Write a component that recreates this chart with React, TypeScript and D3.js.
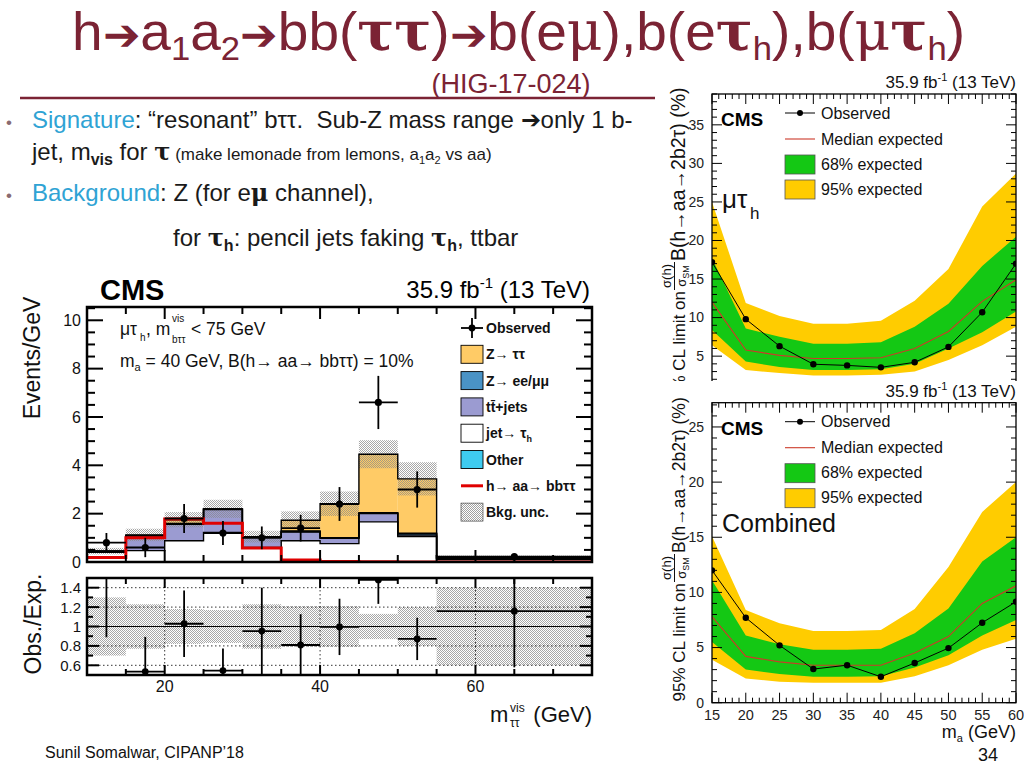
import React from "react";
import * as d3 from "d3";

const FONT = "'Liberation Sans', Arial, Helvetica, sans-serif";
const MAROON = "#7b2334";
const BLUE = "#2fa3d4";
const TEXT = "#1a1a1a";

// ---------------- Left chart: m_vis(tautau) distribution (mu tau_h) ----------------
const binEdges = [10, 15, 20, 25, 30, 35, 40, 45, 50, 55, 75];
const jetFakes = [0.40, 0.47, 0.88, 1.22, 0.60, 0.88, 0.76, 1.66, 1.05, 0.10];
const ttJets = [0.05, 0.60, 0.68, 0.95, 0.42, 0.36, 0.22, 0.34, 0.06, 0.04];
const zLL = [0.00, 0.02, 0.02, 0.01, 0.01, 0.02, 0.02, 0.02, 0.06, 0.01];
const otherBkg = [0.00, 0.01, 0.02, 0.01, 0.01, 0.02, 0.01, 0.02, 0.02, 0.01];
const zTauTau = [0.00, 0.02, 0.15, 0.01, 0.01, 0.45, 1.40, 2.42, 2.25, 0.03];
const bkgRelUnc = [0.30, 0.23, 0.18, 0.17, 0.23, 0.21, 0.21, 0.13, 0.20, 0.40];
const observed = [0.80, 0.60, 1.80, 1.20, 1.00, 1.40, 2.40, 6.60, 3.00, 0.22];
const observedErr = [0.40, 0.40, 0.60, 0.50, 0.47, 0.55, 0.70, 1.10, 0.75, 0.11];
const signal = [0.19, 1.00, 1.78, 1.60, 0.58, 0.08, 0.02, 0.01, 0.00, 0.00];
const mainYTicks = [0, 2, 4, 6, 8, 10];
const ratioYTicks = [0.6, 0.8, 1, 1.2, 1.4];
const ratioXTicks = [20, 40, 60];

// ---------------- Right charts: limits vs m_a ----------------
const massPoints = [15, 20, 25, 30, 35, 40, 45, 50, 55, 60];
const mtObs = [17.2, 9.8, 6.3, 3.95, 3.8, 3.55, 4.2, 6.2, 10.7, 17.0];
const mtMedian = [12.0, 5.8, 5.1, 4.7, 4.7, 4.8, 6.0, 8.2, 12.1, 14.9];
const mt68Lo = [8.4, 4.3, 3.6, 3.2, 3.2, 3.3, 4.0, 6.0, 8.1, 10.8];
const mt68Hi = [17.7, 8.6, 7.5, 6.6, 6.6, 6.8, 8.8, 11.8, 16.7, 20.5];
const mt95Lo = [6.4, 3.2, 2.8, 2.5, 2.5, 2.6, 3.0, 4.5, 6.4, 8.8];
const mt95Hi = [25.0, 11.9, 10.2, 9.2, 9.2, 9.6, 12.2, 16.3, 24.4, 28.7];

const cbObs = [12.0, 7.7, 5.2, 3.05, 3.4, 2.35, 3.6, 4.95, 7.25, 9.15];
const cbMedian = [7.8, 4.2, 3.7, 3.4, 3.4, 3.4, 4.5, 6.0, 9.0, 10.6];
const cb68Lo = [5.5, 3.0, 2.6, 2.35, 2.35, 2.4, 3.2, 4.3, 6.1, 7.5];
const cb68Hi = [11.1, 6.1, 5.3, 4.8, 4.8, 4.9, 6.3, 8.55, 12.8, 15.0];
const cb95Lo = [3.9, 2.2, 1.9, 1.8, 1.8, 1.8, 2.4, 3.4, 4.8, 5.8];
const cb95Hi = [15.1, 8.4, 7.2, 6.5, 6.5, 6.6, 8.5, 12.3, 17.3, 20.0];
const limitXTicks = [15, 20, 25, 30, 35, 40, 45, 50, 55, 60];
const topYTicks = [5, 10, 15, 20, 25, 30, 35];
const bottomYTicks = [0, 5, 10, 15, 20, 25];

const stackColors: Record<string, string> = {
  jet: "#ffffff",
  tt: "#9b9bd1",
  zll: "#4a93c6",
  other: "#3ecbf0",
  ztt: "#ffcb66",
};
const GREEN = "#14c814";
const YELLOW = "#ffcc00";
const SERIF = "'DejaVu Serif', serif";

function LimitPanel(props: any) {
  const { top, bottom, yMax, obs, med, lo68, hi68, lo95, hi95, yLabels, showX, lumiBaseline, fracY, clipId, bFont } = props;
  const x = d3.scaleLinear().domain([15, 60]).range([712, 1016]);
  const y = d3.scaleLinear().domain([0, yMax]).range([bottom, top]);
  const band = (lo: number[], hi: number[]) =>
    d3.area<number>().x((m) => x(m)).y0((_m, i) => y(lo[i])).y1((_m, i) => y(hi[i]))(massPoints) || "";
  const line = (vals: number[]) => d3.line<number>().x((m) => x(m)).y((_m, i) => y(vals[i]))(massPoints) || "";
  const xMinor = d3.range(15, 61, 1);
  const yMinor = d3.range(0, Math.floor(yMax) + 1, 1);
  const fx = 712, fx2 = 1016;
  const legX = 785;
  return (
    <g>
      <defs>
        <clipPath id={clipId + "f"}>
          <rect x={fx} y={top} width={fx2 - fx} height={bottom - top} />
        </clipPath>
      </defs>
      <g clipPath={`url(#${clipId}f)`}>
        <path d={band(lo95, hi95)} fill={YELLOW} />
        <path d={band(lo68, hi68)} fill={GREEN} />
        <path d={line(med)} fill="none" stroke="#cc3a2a" strokeWidth={1.1} />
        <path d={line(obs)} fill="none" stroke="#000" strokeWidth={1} />
        {massPoints.map((m, i) => (
          <circle key={m} cx={x(m)} cy={y(obs[i])} r={3.2} fill="#000" />
        ))}
      </g>
      <rect x={fx} y={top} width={fx2 - fx} height={bottom - top} fill="none" stroke="#000" strokeWidth={1.3} />
      {xMinor.map((v) => {
        const len = v % 5 === 0 ? 10 : 5;
        return (
          <g key={"xt" + v}>
            <line x1={x(v)} x2={x(v)} y1={bottom} y2={bottom - len} stroke="#000" strokeWidth={1} />
            <line x1={x(v)} x2={x(v)} y1={top} y2={top + len} stroke="#000" strokeWidth={1} />
          </g>
        );
      })}
      {yMinor.map((v) => {
        const len = v % 5 === 0 ? 10 : 5;
        return (
          <g key={"yt" + v}>
            <line x1={fx} x2={fx + len} y1={y(v)} y2={y(v)} stroke="#000" strokeWidth={1} />
            <line x1={fx2} x2={fx2 - len} y1={y(v)} y2={y(v)} stroke="#000" strokeWidth={1} />
          </g>
        );
      })}
      {yLabels.map((v: number) => (
        <text key={"yl" + v} x={704} y={y(v)} dy="0.35em" fontSize={14} textAnchor="end" fill="#222">
          {v}
        </text>
      ))}
      {showX &&
        limitXTicks.map((v) => (
          <text key={"xl" + v} x={x(v)} y={bottom + 17} fontSize={14.5} textAnchor="middle" fill="#222">
            {v}
          </text>
        ))}
      <text x={1016} y={lumiBaseline} fontSize={17} textAnchor="end" fill="#111">
        35.9 fb<tspan fontSize={11} dy={-7}>-1</tspan>
        <tspan dy={7}> (13 TeV)</tspan>
      </text>
      <text x={721} y={top + 32} fontSize={19} fontWeight="bold" fill="#000">
        CMS
      </text>
      <line x1={legX} x2={legX + 30} y1={top + 19} y2={top + 19} stroke="#000" strokeWidth={1} />
      <circle cx={legX + 15} cy={top + 19} r={3} fill="#000" />
      <text x={821} y={top + 19} dy="0.35em" fontSize={16} fill="#111">Observed</text>
      <line x1={legX} x2={legX + 30} y1={top + 45} y2={top + 45} stroke="#cc3a2a" strokeWidth={1.1} />
      <text x={821} y={top + 45} dy="0.35em" fontSize={16} fill="#111">Median expected</text>
      <rect x={legX} y={top + 61} width={30} height={19} fill={GREEN} stroke="#555" strokeWidth={0.8} />
      <text x={821} y={top + 70} dy="0.35em" fontSize={16} fill="#111">68% expected</text>
      <rect x={legX} y={top + 86} width={30} height={19} fill={YELLOW} stroke="#555" strokeWidth={0.8} />
      <text x={821} y={top + 95} dy="0.35em" fontSize={16} fill="#111">95% expected</text>
      <g transform={`translate(0, ${fracY}) rotate(-90)`} fill="#111">
        <text x={-15} y={685} fontSize={17} textAnchor="end">95% CL limit on</text>
        <text x={0} y={671} fontSize={13} textAnchor="middle">σ(h)</text>
        <line x1={-14} x2={14} y1={674.5} y2={674.5} stroke="#111" strokeWidth={1} />
        <text x={0} y={686} fontSize={13} textAnchor="middle">
          σ<tspan fontSize={9} dy={3}>SM</tspan>
        </text>
        <text x={15} y={685} fontSize={bFont} textAnchor="start">B(h→aa→2b2τ) (%)</text>
      </g>
    </g>
  );
}

export default function App() {
  const xM = d3.scaleLinear().domain([10, 75]).range([87, 592]);
  const yM = d3.scaleLinear().domain([0, 10.55]).range([562, 307]);
  const yR = d3.scaleLinear().domain([0.5, 1.5]).range([675, 578]);

  const rows = jetFakes.map((_, i) => ({
    jet: jetFakes[i],
    tt: ttJets[i],
    zll: zLL[i],
    other: otherBkg[i],
    ztt: zTauTau[i],
  }));
  const keys = ["jet", "tt", "zll", "other", "ztt"];
  const series = d3.stack<any>().keys(keys)(rows);
  const totals = series[series.length - 1].map((d) => d[1]);

  const stepLine = d3
    .line<[number, number]>()
    .x((d) => xM(d[0]))
    .y((d) => yM(d[1]))
    .curve(d3.curveStepAfter);
  const stepPts = (vals: number[]): [number, number][] => [
    ...vals.map((v, i) => [binEdges[i], v] as [number, number]),
    [binEdges[vals.length], vals[vals.length - 1]],
  ];

  const mainX0 = 87, mainX1 = 592, mainTop = 307, mainBot = 562;
  const rTop = 578, rBot = 675;

  const xTickVals = d3.range(15, 75, 5);
  const yMinorMain = d3.range(0, 10.51, 0.5);
  const yMinorRatio = d3.range(0.6, 1.45, 0.1);

  const legendY0 = 328;
  const legendStep = 26.3;
  const boxX = 461;
  const ARROW = "\u2794";

  return (
    <svg
      width={1024}
      height={768}
      viewBox="0 0 1024 768"
      style={{ position: "absolute", left: 0, top: 0, background: "#fff" }}
      fontFamily={FONT}
    >
      <defs>
        <pattern id="hatch" width={2} height={2} patternUnits="userSpaceOnUse">
          <rect x={0} y={0} width={1} height={1} fill="#8a8a8a" />
          <rect x={1} y={1} width={1} height={1} fill="#8a8a8a" />
        </pattern>
        <clipPath id="mainClip">
          <rect x={mainX0} y={mainTop} width={mainX1 - mainX0} height={mainBot - mainTop} />
        </clipPath>
        <clipPath id="ratioClip">
          <rect x={mainX0} y={rTop} width={mainX1 - mainX0} height={rBot - rTop} />
        </clipPath>
        <clipPath id="topRightClip">
          <rect x={640} y={60} width={384} height={321} />
        </clipPath>
      </defs>
      <rect width={1024} height={768} fill="#fff" />

      {/* ---------- slide title ---------- */}
      <text x={72} y={50} fontSize={54} fill={MAROON} textLength={893} lengthAdjust="spacingAndGlyphs">
        h<tspan fontSize={44}>{ARROW}</tspan>
        <tspan>a</tspan>
        <tspan fontSize={34} dy={10}>1</tspan>
        <tspan dy={-10}>a</tspan>
        <tspan fontSize={34} dy={10}>2</tspan>
        <tspan dy={-10} fontSize={44}>{ARROW}</tspan>
        <tspan>bb(</tspan>
        <tspan fontFamily={SERIF} fontWeight="bold">ττ</tspan>
        <tspan>)</tspan>
        <tspan fontSize={44}>{ARROW}</tspan>
        <tspan>b(e</tspan>
        <tspan fontFamily={SERIF}>μ</tspan>
        <tspan>),b(e</tspan>
        <tspan fontFamily={SERIF} fontWeight="bold">τ</tspan>
        <tspan fontSize={34} dy={10}>h</tspan>
        <tspan dy={-10}>),b(</tspan>
        <tspan fontFamily={SERIF}>μ</tspan>
        <tspan fontFamily={SERIF} fontWeight="bold">τ</tspan>
        <tspan fontSize={34} dy={10}>h</tspan>
        <tspan dy={-10}>)</tspan>
      </text>
      <text x={511} y={93} fontSize={27} fill={MAROON} textAnchor="middle">
        (HIG-17-024)
      </text>
      <line x1={20} x2={655} y1={98} y2={98} stroke={MAROON} strokeWidth={2.5} />

      {/* ---------- bullets ---------- */}
      <g fontSize={24} fill={TEXT}>
        <text x={6} y={128} fill="#8a6a70" fontSize={17}>•</text>
        <text x={32} y={128}>
          <tspan fill={BLUE}>Signature</tspan>: “resonant” bττ.{"\u00a0 "}Sub-Z mass range {ARROW}only 1 b-
        </text>
        <text x={32} y={160}>
          jet, m<tspan fontSize={16} dy={5} fontWeight="bold">vis</tspan>
          <tspan dy={-5}> for </tspan>
          <tspan fontFamily={SERIF} fontWeight="bold">τ</tspan>
          <tspan fontSize={17}> (make lemonade from lemons, a</tspan>
          <tspan fontSize={11} dy={4}>1</tspan>
          <tspan fontSize={17} dy={-4}>a</tspan>
          <tspan fontSize={11} dy={4}>2</tspan>
          <tspan fontSize={17} dy={-4}> vs aa)</tspan>
        </text>
        <text x={6} y={201} fill="#8a6a70" fontSize={17}>•</text>
        <text x={32} y={201}>
          <tspan fill={BLUE}>Background</tspan>: Z (for e<tspan fontFamily={SERIF} fontWeight="bold">μ</tspan> channel),
        </text>
        <text x={173} y={246}>
          for <tspan fontFamily={SERIF} fontWeight="bold">τ</tspan>
          <tspan fontSize={16} dy={5} fontWeight="bold">h</tspan>
          <tspan dy={-5}>: pencil jets faking </tspan>
          <tspan fontFamily={SERIF} fontWeight="bold">τ</tspan>
          <tspan fontSize={16} dy={5} fontWeight="bold">h</tspan>
          <tspan dy={-5}>, ttbar</tspan>
        </text>
      </g>

      {/* ---------- left chart ---------- */}
      <text x={100} y={300} fontSize={29} fontWeight="bold" fill="#000">CMS</text>
      <text x={590} y={298} fontSize={24} textAnchor="end" fill="#000">
        35.9 fb<tspan fontSize={15} dy={-10}>-1</tspan>
        <tspan dy={10}> (13 TeV)</tspan>
      </text>

      <g clipPath="url(#mainClip)">
        {series.map((s) =>
          s.map((d, i) => (
            <rect
              key={s.key + i}
              x={xM(binEdges[i])}
              width={xM(binEdges[i + 1]) - xM(binEdges[i])}
              y={yM(d[1])}
              height={Math.max(0, yM(d[0]) - yM(d[1]))}
              fill={stackColors[s.key]}
            />
          ))
        )}
        {totals.map((t, i) => (
          <rect
            key={"unc" + i}
            x={xM(binEdges[i])}
            width={xM(binEdges[i + 1]) - xM(binEdges[i])}
            y={yM(t * (1 + bkgRelUnc[i]))}
            height={yM(t * (1 - bkgRelUnc[i])) - yM(t * (1 + bkgRelUnc[i]))}
            fill="url(#hatch)"
            opacity={0.75}
          />
        ))}
        {series.map((s) => (
          <path
            key={"out" + s.key}
            d={stepLine(stepPts(s.map((d) => d[1]))) || ""}
            fill="none"
            stroke="#000"
            strokeWidth={1.4}
          />
        ))}
        <path d={stepLine(stepPts(signal)) || ""} fill="none" stroke="#e00000" strokeWidth={3} />
        {observed.map((v, i) => {
          const cx = xM((binEdges[i] + binEdges[i + 1]) / 2);
          return (
            <g key={"obs" + i}>
              <line x1={cx} x2={cx} y1={yM(v + observedErr[i])} y2={yM(Math.max(0, v - observedErr[i]))} stroke="#000" strokeWidth={1.8} />
              <line x1={xM(binEdges[i])} x2={xM(binEdges[i + 1])} y1={yM(v)} y2={yM(v)} stroke="#000" strokeWidth={1.8} />
              <circle cx={cx} cy={yM(v)} r={3.6} fill="#000" />
            </g>
          );
        })}
      </g>
      <rect x={mainX0} y={mainTop} width={mainX1 - mainX0} height={mainBot - mainTop} fill="none" stroke="#000" strokeWidth={2.5} />
      {yMinorMain.map((v) => {
        const major = Math.abs(v % 2) < 1e-6;
        const len = major ? 16 : 8;
        return (
          <g key={"my" + v}>
            <line x1={mainX0} x2={mainX0 + len} y1={yM(v)} y2={yM(v)} stroke="#000" strokeWidth={2} />
            <line x1={mainX1} x2={mainX1 - len} y1={yM(v)} y2={yM(v)} stroke="#000" strokeWidth={2} />
          </g>
        );
      })}
      {xTickVals.map((v) => {
        const len = v % 20 === 0 ? 12 : 7;
        return (
          <g key={"mx" + v}>
            <line x1={xM(v)} x2={xM(v)} y1={mainTop} y2={mainTop + len} stroke="#000" strokeWidth={2} />
            <line x1={xM(v)} x2={xM(v)} y1={mainBot} y2={mainBot - len} stroke="#000" strokeWidth={2} />
          </g>
        );
      })}
      {mainYTicks.map((v) => (
        <text key={"myl" + v} x={81} y={yM(v)} dy="0.36em" fontSize={16} textAnchor="end" fill="#111">
          {v}
        </text>
      ))}
      <text transform="translate(40, 358) rotate(-90)" fontSize={23} textAnchor="middle" fill="#111">
        Events/GeV
      </text>

      {/* in-plot text */}
      <g fontSize={17.5} fill="#111">
        <text x={120} y={335}>μτ</text>
        <text x={140} y={341} fontSize={10}>h</text>
        <text x={146} y={335}>, m</text>
        <text x={172} y={322} fontSize={10}>vis</text>
        <text x={172} y={343} fontSize={10}>bττ</text>
        <text x={191} y={335}>&lt; 75 GeV</text>
        <text x={120} y={367}>
          m<tspan fontSize={11} dy={4}>a</tspan>
          <tspan dy={-4}> = 40 GeV, B(h→ aa→ bbττ) = 10%</tspan>
        </text>
      </g>

      {/* legend */}
      <g fontSize={14} fontWeight="bold" fill="#111">
        <line x1={boxX} x2={boxX + 22} y1={legendY0} y2={legendY0} stroke="#000" strokeWidth={1.8} />
        <line x1={boxX + 11} x2={boxX + 11} y1={legendY0 - 10} y2={legendY0 + 10} stroke="#000" strokeWidth={1.8} />
        <circle cx={boxX + 11} cy={legendY0} r={3.4} fill="#000" />
        <text x={486} y={legendY0} dy="0.36em">Observed</text>
        {[
          { fill: stackColors.ztt, label: "Z→ ττ" },
          { fill: stackColors.zll, label: "Z→ ee/μμ" },
          { fill: stackColors.tt, label: "tt\u0304+jets" },
          { fill: stackColors.jet, label: "jet→ τ", sub: "h" },
          { fill: stackColors.other, label: "Other" },
        ].map((e, k) => {
          const yy = legendY0 + (k + 1) * legendStep;
          return (
            <g key={"leg" + k}>
              <rect x={boxX} y={yy - 9} width={22} height={18} fill={e.fill} stroke="#000" strokeWidth={0.9} />
              <text x={486} y={yy} dy="0.36em">
                {e.label}
                {e.sub ? (
                  <tspan fontSize={9} dy={4}>
                    {e.sub}
                  </tspan>
                ) : null}
              </text>
            </g>
          );
        })}
        <line x1={boxX} x2={boxX + 22} y1={legendY0 + 6 * legendStep} y2={legendY0 + 6 * legendStep} stroke="#e00000" strokeWidth={3} />
        <text x={486} y={legendY0 + 6 * legendStep} dy="0.36em">h→ aa→ bbττ</text>
        <rect x={boxX} y={legendY0 + 7 * legendStep - 9} width={22} height={18} fill="url(#hatch)" stroke="#000" strokeWidth={0.6} opacity={0.8} />
        <text x={486} y={legendY0 + 7 * legendStep} dy="0.36em">Bkg. unc.</text>
      </g>

      {/* ratio panel */}
      <g clipPath="url(#ratioClip)">
        {totals.map((t, i) => (
          <rect
            key={"runc" + i}
            x={xM(binEdges[i])}
            width={xM(binEdges[i + 1]) - xM(binEdges[i])}
            y={yR(1 + bkgRelUnc[i])}
            height={yR(1 - bkgRelUnc[i]) - yR(1 + bkgRelUnc[i])}
            fill="url(#hatch)"
            opacity={0.75}
          />
        ))}
        {ratioYTicks
          .filter((v) => v !== 1)
          .map((v) => (
            <line key={"rg" + v} x1={mainX0} x2={mainX1} y1={yR(v)} y2={yR(v)} stroke="#000" strokeWidth={0.8} strokeDasharray="1.5,2.5" />
          ))}
        {ratioXTicks.map((v) => (
          <line key={"rgx" + v} x1={xM(v)} x2={xM(v)} y1={rTop} y2={rBot} stroke="#000" strokeWidth={0.8} strokeDasharray="1.5,2.5" />
        ))}
        <line x1={mainX0} x2={mainX1} y1={yR(1)} y2={yR(1)} stroke="#000" strokeWidth={1} />
        {observed.map((v, i) => {
          const t = totals[i];
          const r = v / t;
          const e = observedErr[i] / t;
          const cx = xM((binEdges[i] + binEdges[i + 1]) / 2);
          return (
            <g key={"ro" + i}>
              <line x1={cx} x2={cx} y1={yR(r + e)} y2={yR(r - e)} stroke="#000" strokeWidth={1.8} />
              <line x1={xM(binEdges[i])} x2={xM(binEdges[i + 1])} y1={yR(r)} y2={yR(r)} stroke="#000" strokeWidth={1.8} />
              <circle cx={cx} cy={yR(r)} r={3.4} fill="#000" />
            </g>
          );
        })}
      </g>
      <rect x={mainX0} y={rTop} width={mainX1 - mainX0} height={rBot - rTop} fill="none" stroke="#000" strokeWidth={2.5} />
      {yMinorRatio.map((v) => {
        const major = ratioYTicks.some((t) => Math.abs(t - v) < 1e-6);
        const len = major ? 12 : 6;
        return (
          <g key={"ry" + v.toFixed(2)}>
            <line x1={mainX0} x2={mainX0 + len} y1={yR(v)} y2={yR(v)} stroke="#000" strokeWidth={2} />
            <line x1={mainX1} x2={mainX1 - len} y1={yR(v)} y2={yR(v)} stroke="#000" strokeWidth={2} />
          </g>
        );
      })}
      {xTickVals.map((v) => {
        const len = v % 20 === 0 ? 10 : 6;
        return (
          <g key={"rx" + v}>
            <line x1={xM(v)} x2={xM(v)} y1={rTop} y2={rTop + len} stroke="#000" strokeWidth={2} />
            <line x1={xM(v)} x2={xM(v)} y1={rBot} y2={rBot - len} stroke="#000" strokeWidth={2} />
          </g>
        );
      })}
      {ratioYTicks.map((v) => (
        <text key={"ryl" + v} x={81} y={yR(v)} dy="0.36em" fontSize={15} textAnchor="end" fill="#111">
          {v}
        </text>
      ))}
      {ratioXTicks.map((v) => (
        <text key={"rxl" + v} x={xM(v)} y={692} fontSize={16} textAnchor="middle" fill="#111">
          {v}
        </text>
      ))}
      <text transform="translate(41, 624) rotate(-90)" fontSize={23} textAnchor="middle" fill="#111">
        Obs./Exp.
      </text>
      <g fill="#111">
        <text x={490} y={722} fontSize={22}>m</text>
        <text x={510} y={712} fontSize={12}>vis</text>
        <text x={510} y={727} fontSize={12}>ττ</text>
        <text x={592} y={722} fontSize={22} textAnchor="end">(GeV)</text>
      </g>

      <text x={45} y={758} fontSize={16} fill="#111">Sunil Somalwar, CIPANP’18</text>

      {/* ---------- right charts ---------- */}
      <g clipPath="url(#topRightClip)">
        <LimitPanel
          clipId="mt"
          top={94}
          bottom={394.7}
          yMax={39}
          obs={mtObs}
          med={mtMedian}
          lo68={mt68Lo}
          hi68={mt68Hi}
          lo95={mt95Lo}
          hi95={mt95Hi}
          yLabels={topYTicks}
          showX={false}
          lumiBaseline={88}
          fracY={276}
          bFont={19.5}
        />
        <text x={722} y={208} fontSize={26} fill="#111">μτ</text>
        <text x={750} y={219} fontSize={17} fill="#111">h</text>
      </g>
      <LimitPanel
        clipId="cb"
        top={402.7}
        bottom={702.7}
        yMax={27.2}
        obs={cbObs}
        med={cbMedian}
        lo68={cb68Lo}
        hi68={cb68Hi}
        lo95={cb95Lo}
        hi95={cb95Hi}
        yLabels={bottomYTicks}
        showX={true}
        lumiBaseline={397}
        fracY={568}
        bFont={17.5}
      />
      <text x={722} y={532} fontSize={25} fill="#111">Combined</text>
      <text x={1016} y={738} fontSize={18} textAnchor="end" fill="#111">
        m<tspan fontSize={11} dy={4}>a</tspan>
        <tspan dy={-4}> (GeV)</tspan>
      </text>
      <text x={988} y={761} fontSize={18} textAnchor="middle" fill="#111">34</text>
    </svg>
  );
}
